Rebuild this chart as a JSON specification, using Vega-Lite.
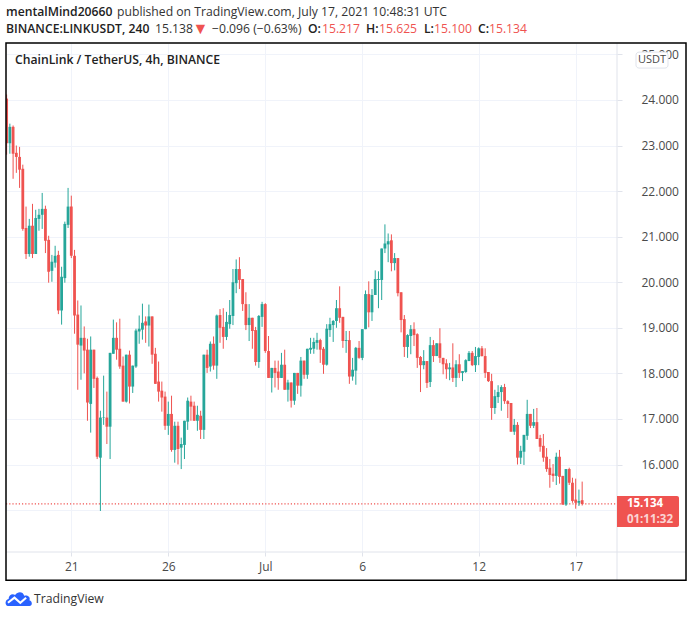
{"$schema":"https://vega.github.io/schema/vega-lite/v6.json","width":611,"height":509,"autosize":"none","padding":{"left":6,"top":43,"right":75,"bottom":65},"background":"#ffffff","view":{"stroke":null},"config":{"font":"Open Sans","text":{"font":"Open Sans"},"axis":{"labelFont":"Open Sans"}},
"datasets":{
"candles":[
{"t":"2021-06-17T16:00Z","o":24.03,"h":24.12,"l":22.8,"c":23.05},{"t":"2021-06-17T20:00Z","o":23.05,"h":23.48,"l":22.82,"c":23.41},
{"t":"2021-06-18T00:00Z","o":23.41,"h":23.44,"l":22.27,"c":22.82},{"t":"2021-06-18T04:00Z","o":22.84,"h":23.0,"l":22.4,"c":22.75},{"t":"2021-06-18T08:00Z","o":22.75,"h":22.97,"l":22.07,"c":22.47},{"t":"2021-06-18T12:00Z","o":22.49,"h":22.58,"l":21.13,"c":21.17},{"t":"2021-06-18T16:00Z","o":21.19,"h":21.66,"l":20.51,"c":20.62},{"t":"2021-06-18T20:00Z","o":20.62,"h":21.39,"l":20.56,"c":21.24},
{"t":"2021-06-19T00:00Z","o":21.24,"h":21.72,"l":20.53,"c":20.62},{"t":"2021-06-19T04:00Z","o":20.62,"h":21.59,"l":20.62,"c":21.41},{"t":"2021-06-19T08:00Z","o":21.39,"h":21.61,"l":21.13,"c":21.48},{"t":"2021-06-19T12:00Z","o":21.48,"h":21.96,"l":21.17,"c":21.61},{"t":"2021-06-19T16:00Z","o":21.61,"h":21.68,"l":20.64,"c":20.91},{"t":"2021-06-19T20:00Z","o":20.93,"h":21.02,"l":19.99,"c":20.23},
{"t":"2021-06-20T00:00Z","o":20.25,"h":20.6,"l":20.01,"c":20.45},{"t":"2021-06-20T04:00Z","o":20.43,"h":20.8,"l":20.32,"c":20.58},{"t":"2021-06-20T08:00Z","o":20.6,"h":20.69,"l":19.3,"c":19.38},{"t":"2021-06-20T12:00Z","o":19.38,"h":20.34,"l":19.07,"c":20.12},{"t":"2021-06-20T16:00Z","o":20.09,"h":21.33,"l":19.99,"c":21.28},{"t":"2021-06-20T20:00Z","o":21.26,"h":22.07,"l":21.19,"c":21.66},
{"t":"2021-06-21T00:00Z","o":21.66,"h":21.9,"l":20.53,"c":20.58},{"t":"2021-06-21T04:00Z","o":20.58,"h":20.71,"l":18.87,"c":19.27},{"t":"2021-06-21T08:00Z","o":19.29,"h":19.6,"l":17.64,"c":18.63},{"t":"2021-06-21T12:00Z","o":18.61,"h":19.49,"l":17.86,"c":18.78},{"t":"2021-06-21T16:00Z","o":18.78,"h":19.03,"l":18.0,"c":18.5},{"t":"2021-06-21T20:00Z","o":18.52,"h":18.76,"l":16.96,"c":17.36},
{"t":"2021-06-22T00:00Z","o":17.33,"h":18.81,"l":16.7,"c":18.52},{"t":"2021-06-22T04:00Z","o":18.52,"h":18.52,"l":17.68,"c":17.88},{"t":"2021-06-22T08:00Z","o":17.9,"h":17.93,"l":16.12,"c":16.17},{"t":"2021-06-22T12:00Z","o":16.15,"h":17.18,"l":14.98,"c":17.03},{"t":"2021-06-22T16:00Z","o":17.02,"h":17.95,"l":16.87,"c":17.03},{"t":"2021-06-22T20:00Z","o":17.03,"h":17.6,"l":16.45,"c":16.83},
{"t":"2021-06-23T00:00Z","o":16.83,"h":18.45,"l":16.12,"c":18.45},{"t":"2021-06-23T04:00Z","o":18.43,"h":19.18,"l":18.43,"c":18.78},{"t":"2021-06-23T08:00Z","o":18.78,"h":19.12,"l":18.3,"c":18.52},{"t":"2021-06-23T12:00Z","o":18.54,"h":19.2,"l":18.1,"c":18.15},{"t":"2021-06-23T16:00Z","o":18.17,"h":18.37,"l":17.38,"c":17.38},{"t":"2021-06-23T20:00Z","o":17.38,"h":18.41,"l":17.36,"c":18.41},
{"t":"2021-06-24T00:00Z","o":18.41,"h":18.5,"l":17.34,"c":17.71},{"t":"2021-06-24T04:00Z","o":17.71,"h":18.17,"l":17.57,"c":18.17},{"t":"2021-06-24T08:00Z","o":18.15,"h":18.98,"l":18.12,"c":18.94},{"t":"2021-06-24T12:00Z","o":18.92,"h":19.27,"l":18.65,"c":18.98},{"t":"2021-06-24T16:00Z","o":18.96,"h":19.53,"l":18.74,"c":19.11},{"t":"2021-06-24T20:00Z","o":19.14,"h":19.25,"l":18.67,"c":19.05},
{"t":"2021-06-25T00:00Z","o":19.05,"h":19.51,"l":18.59,"c":19.25},{"t":"2021-06-25T04:00Z","o":19.25,"h":19.25,"l":18.21,"c":18.41},{"t":"2021-06-25T08:00Z","o":18.43,"h":18.56,"l":17.77,"c":17.77},{"t":"2021-06-25T12:00Z","o":17.82,"h":18.26,"l":17.38,"c":17.6},{"t":"2021-06-25T16:00Z","o":17.62,"h":17.82,"l":17.16,"c":17.47},{"t":"2021-06-25T20:00Z","o":17.49,"h":17.6,"l":16.76,"c":16.85},
{"t":"2021-06-26T00:00Z","o":16.85,"h":17.38,"l":16.65,"c":17.11},{"t":"2021-06-26T04:00Z","o":17.11,"h":17.51,"l":16.28,"c":16.32},{"t":"2021-06-26T08:00Z","o":16.32,"h":16.94,"l":16.04,"c":16.85},{"t":"2021-06-26T12:00Z","o":16.85,"h":16.94,"l":16.0,"c":16.34},{"t":"2021-06-26T16:00Z","o":16.37,"h":16.59,"l":15.9,"c":16.45},{"t":"2021-06-26T20:00Z","o":16.43,"h":16.96,"l":16.12,"c":16.96},
{"t":"2021-06-27T00:00Z","o":16.94,"h":17.47,"l":16.76,"c":17.4},{"t":"2021-06-27T04:00Z","o":17.38,"h":17.51,"l":16.96,"c":17.27},{"t":"2021-06-27T08:00Z","o":17.29,"h":17.38,"l":16.96,"c":16.96},{"t":"2021-06-27T12:00Z","o":16.96,"h":17.29,"l":16.74,"c":17.09},{"t":"2021-06-27T16:00Z","o":17.07,"h":17.18,"l":16.56,"c":16.76},{"t":"2021-06-27T20:00Z","o":16.76,"h":18.41,"l":16.56,"c":18.41},
{"t":"2021-06-28T00:00Z","o":18.41,"h":18.52,"l":18.01,"c":18.12},{"t":"2021-06-28T04:00Z","o":18.15,"h":18.7,"l":18.04,"c":18.65},{"t":"2021-06-28T08:00Z","o":18.65,"h":18.81,"l":18.08,"c":18.17},{"t":"2021-06-28T12:00Z","o":18.17,"h":19.29,"l":17.88,"c":19.27},{"t":"2021-06-28T16:00Z","o":19.28,"h":19.41,"l":18.67,"c":19.0},{"t":"2021-06-28T20:00Z","o":19.02,"h":19.43,"l":18.54,"c":18.8},
{"t":"2021-06-29T00:00Z","o":18.8,"h":19.35,"l":18.73,"c":19.13},{"t":"2021-06-29T04:00Z","o":19.08,"h":19.61,"l":18.98,"c":19.28},{"t":"2021-06-29T08:00Z","o":19.26,"h":20.29,"l":19.06,"c":20.0},{"t":"2021-06-29T12:00Z","o":19.98,"h":20.5,"l":19.76,"c":20.29},{"t":"2021-06-29T16:00Z","o":20.29,"h":20.55,"l":19.85,"c":20.05},{"t":"2021-06-29T20:00Z","o":20.07,"h":20.07,"l":19.37,"c":19.52},
{"t":"2021-06-30T00:00Z","o":19.52,"h":19.78,"l":18.95,"c":19.06},{"t":"2021-06-30T04:00Z","o":19.06,"h":19.52,"l":18.71,"c":19.22},{"t":"2021-06-30T08:00Z","o":19.22,"h":19.22,"l":18.54,"c":18.93},{"t":"2021-06-30T12:00Z","o":18.95,"h":19.02,"l":18.17,"c":18.25},{"t":"2021-06-30T16:00Z","o":18.25,"h":19.28,"l":18.12,"c":19.26},{"t":"2021-06-30T20:00Z","o":19.24,"h":19.57,"l":19.02,"c":19.52},
{"t":"2021-07-01T00:00Z","o":19.52,"h":19.54,"l":18.45,"c":18.49},{"t":"2021-07-01T04:00Z","o":18.49,"h":18.82,"l":17.9,"c":17.9},{"t":"2021-07-01T08:00Z","o":17.9,"h":18.12,"l":17.58,"c":18.12},{"t":"2021-07-01T12:00Z","o":18.12,"h":18.28,"l":17.69,"c":18.01},{"t":"2021-07-01T16:00Z","o":18.04,"h":18.28,"l":17.64,"c":17.9},{"t":"2021-07-01T20:00Z","o":17.9,"h":18.45,"l":17.9,"c":18.19},
{"t":"2021-07-02T00:00Z","o":18.19,"h":18.52,"l":17.64,"c":17.64},{"t":"2021-07-02T04:00Z","o":17.64,"h":17.86,"l":17.38,"c":17.8},{"t":"2021-07-02T08:00Z","o":17.8,"h":17.8,"l":17.25,"c":17.4},{"t":"2021-07-02T12:00Z","o":17.4,"h":18.01,"l":17.31,"c":18.01},{"t":"2021-07-02T16:00Z","o":18.01,"h":18.01,"l":17.55,"c":17.73},{"t":"2021-07-02T20:00Z","o":17.73,"h":18.36,"l":17.49,"c":18.28},
{"t":"2021-07-03T00:00Z","o":18.28,"h":18.28,"l":17.88,"c":17.97},{"t":"2021-07-03T04:00Z","o":17.97,"h":18.54,"l":17.88,"c":18.54},{"t":"2021-07-03T08:00Z","o":18.52,"h":18.78,"l":18.43,"c":18.56},{"t":"2021-07-03T12:00Z","o":18.54,"h":18.78,"l":18.43,"c":18.69},{"t":"2021-07-03T16:00Z","o":18.67,"h":18.89,"l":18.52,"c":18.73},{"t":"2021-07-03T20:00Z","o":18.73,"h":18.76,"l":18.23,"c":18.52},
{"t":"2021-07-04T00:00Z","o":18.54,"h":18.58,"l":17.99,"c":18.19},{"t":"2021-07-04T04:00Z","o":18.19,"h":19.08,"l":18.17,"c":18.98},{"t":"2021-07-04T08:00Z","o":18.95,"h":19.22,"l":18.8,"c":19.08},{"t":"2021-07-04T12:00Z","o":19.06,"h":19.17,"l":18.69,"c":19.15},{"t":"2021-07-04T16:00Z","o":19.15,"h":19.61,"l":19.0,"c":19.43},{"t":"2021-07-04T20:00Z","o":19.43,"h":19.91,"l":19.11,"c":19.22},
{"t":"2021-07-05T00:00Z","o":19.24,"h":19.24,"l":18.56,"c":18.71},{"t":"2021-07-05T04:00Z","o":18.71,"h":18.93,"l":18.45,"c":18.73},{"t":"2021-07-05T08:00Z","o":18.73,"h":18.93,"l":17.77,"c":17.93},{"t":"2021-07-05T12:00Z","o":17.93,"h":18.34,"l":17.84,"c":18.08},{"t":"2021-07-05T16:00Z","o":18.06,"h":18.58,"l":17.75,"c":18.56},{"t":"2021-07-05T20:00Z","o":18.56,"h":18.71,"l":18.32,"c":18.34},
{"t":"2021-07-06T00:00Z","o":18.34,"h":18.97,"l":18.29,"c":18.97},{"t":"2021-07-06T04:00Z","o":18.97,"h":19.82,"l":18.97,"c":19.74},{"t":"2021-07-06T08:00Z","o":19.74,"h":20.02,"l":19.01,"c":19.34},{"t":"2021-07-06T12:00Z","o":19.34,"h":19.85,"l":19.15,"c":19.72},{"t":"2021-07-06T16:00Z","o":19.72,"h":20.26,"l":19.72,"c":20.07},{"t":"2021-07-06T20:00Z","o":20.05,"h":20.24,"l":19.43,"c":20.07},
{"t":"2021-07-07T00:00Z","o":20.05,"h":20.74,"l":19.61,"c":20.74},{"t":"2021-07-07T04:00Z","o":20.74,"h":21.27,"l":20.64,"c":20.85},{"t":"2021-07-07T08:00Z","o":20.83,"h":21.07,"l":20.44,"c":20.9},{"t":"2021-07-07T12:00Z","o":20.92,"h":21.05,"l":20.24,"c":20.42},{"t":"2021-07-07T16:00Z","o":20.42,"h":20.64,"l":20.26,"c":20.53},{"t":"2021-07-07T20:00Z","o":20.53,"h":20.53,"l":19.69,"c":19.76},
{"t":"2021-07-08T00:00Z","o":19.78,"h":19.78,"l":18.9,"c":19.17},{"t":"2021-07-08T04:00Z","o":19.19,"h":19.28,"l":18.36,"c":18.58},{"t":"2021-07-08T08:00Z","o":18.58,"h":18.86,"l":18.34,"c":18.84},{"t":"2021-07-08T12:00Z","o":18.82,"h":19.06,"l":18.42,"c":18.97},{"t":"2021-07-08T16:00Z","o":18.97,"h":19.12,"l":18.6,"c":18.84},{"t":"2021-07-08T20:00Z","o":18.86,"h":18.88,"l":18.12,"c":18.34},
{"t":"2021-07-09T00:00Z","o":18.36,"h":18.38,"l":17.59,"c":18.18},{"t":"2021-07-09T04:00Z","o":18.18,"h":18.51,"l":18.09,"c":18.27},{"t":"2021-07-09T08:00Z","o":18.27,"h":18.27,"l":17.68,"c":17.79},{"t":"2021-07-09T12:00Z","o":17.81,"h":18.8,"l":17.7,"c":18.62},{"t":"2021-07-09T16:00Z","o":18.62,"h":18.73,"l":18.25,"c":18.38},{"t":"2021-07-09T20:00Z","o":18.38,"h":18.66,"l":18.38,"c":18.66},
{"t":"2021-07-10T00:00Z","o":18.66,"h":18.99,"l":18.23,"c":18.34},{"t":"2021-07-10T04:00Z","o":18.34,"h":18.34,"l":17.98,"c":18.2},{"t":"2021-07-10T08:00Z","o":18.22,"h":18.31,"l":17.88,"c":18.09},{"t":"2021-07-10T12:00Z","o":18.09,"h":18.23,"l":17.85,"c":18.13},{"t":"2021-07-10T16:00Z","o":18.13,"h":18.66,"l":17.81,"c":17.9},{"t":"2021-07-10T20:00Z","o":17.9,"h":18.29,"l":17.7,"c":18.2},
{"t":"2021-07-11T00:00Z","o":18.2,"h":18.42,"l":17.9,"c":18.01},{"t":"2021-07-11T04:00Z","o":18.01,"h":18.05,"l":17.83,"c":18.05},{"t":"2021-07-11T08:00Z","o":18.03,"h":18.31,"l":18.01,"c":18.29},{"t":"2021-07-11T12:00Z","o":18.27,"h":18.49,"l":18.27,"c":18.45},{"t":"2021-07-11T16:00Z","o":18.45,"h":18.49,"l":18.16,"c":18.18},{"t":"2021-07-11T20:00Z","o":18.18,"h":18.58,"l":18.03,"c":18.38},
{"t":"2021-07-12T00:00Z","o":18.36,"h":18.57,"l":18.18,"c":18.55},{"t":"2021-07-12T04:00Z","o":18.55,"h":18.6,"l":18.37,"c":18.38},{"t":"2021-07-12T08:00Z","o":18.38,"h":18.55,"l":17.9,"c":18.01},{"t":"2021-07-12T12:00Z","o":18.03,"h":18.03,"l":17.81,"c":17.83},{"t":"2021-07-12T16:00Z","o":17.83,"h":17.99,"l":16.98,"c":17.24},{"t":"2021-07-12T20:00Z","o":17.24,"h":17.64,"l":17.11,"c":17.5},
{"t":"2021-07-13T00:00Z","o":17.48,"h":17.74,"l":17.35,"c":17.59},{"t":"2021-07-13T04:00Z","o":17.59,"h":17.74,"l":17.18,"c":17.7},{"t":"2021-07-13T08:00Z","o":17.7,"h":17.77,"l":17.33,"c":17.39},{"t":"2021-07-13T12:00Z","o":17.39,"h":17.41,"l":17.02,"c":17.33},{"t":"2021-07-13T16:00Z","o":17.35,"h":17.35,"l":16.72,"c":16.72},{"t":"2021-07-13T20:00Z","o":16.72,"h":17.0,"l":16.65,"c":16.87},
{"t":"2021-07-14T00:00Z","o":16.87,"h":16.93,"l":16.0,"c":16.15},{"t":"2021-07-14T04:00Z","o":16.15,"h":16.41,"l":16.01,"c":16.3},{"t":"2021-07-14T08:00Z","o":16.28,"h":16.65,"l":15.99,"c":16.65},{"t":"2021-07-14T12:00Z","o":16.63,"h":17.42,"l":16.54,"c":17.11},{"t":"2021-07-14T16:00Z","o":17.11,"h":17.11,"l":16.8,"c":16.85},{"t":"2021-07-14T20:00Z","o":16.85,"h":17.22,"l":16.8,"c":16.93},
{"t":"2021-07-15T00:00Z","o":16.93,"h":17.24,"l":16.56,"c":16.56},{"t":"2021-07-15T04:00Z","o":16.58,"h":16.65,"l":16.28,"c":16.39},{"t":"2021-07-15T08:00Z","o":16.41,"h":16.67,"l":16.06,"c":16.15},{"t":"2021-07-15T12:00Z","o":16.17,"h":16.36,"l":15.84,"c":15.9},{"t":"2021-07-15T16:00Z","o":15.93,"h":16.12,"l":15.49,"c":15.77},{"t":"2021-07-15T20:00Z","o":15.8,"h":16.01,"l":15.62,"c":15.75},
{"t":"2021-07-16T00:00Z","o":15.75,"h":16.26,"l":15.55,"c":16.17},{"t":"2021-07-16T04:00Z","o":16.17,"h":16.32,"l":15.58,"c":15.73},{"t":"2021-07-16T08:00Z","o":15.75,"h":15.75,"l":15.12,"c":15.12},{"t":"2021-07-16T12:00Z","o":15.12,"h":15.9,"l":15.09,"c":15.9},{"t":"2021-07-16T16:00Z","o":15.9,"h":15.93,"l":15.55,"c":15.6},{"t":"2021-07-16T20:00Z","o":15.6,"h":15.71,"l":15.16,"c":15.2},
{"t":"2021-07-17T00:00Z","o":15.23,"h":15.69,"l":15.03,"c":15.16},{"t":"2021-07-17T04:00Z","o":15.16,"h":15.45,"l":15.09,"c":15.2},{"t":"2021-07-17T08:00Z","o":15.217,"h":15.625,"l":15.1,"c":15.134}
],
"notes":[
{"label":"mentalMind20660","t":"2021-06-17T15:13Z","p":25.93,"role":"bold"},
{"label":"published on TradingView.com, July 17, 2021 10:48:31 UTC","t":"2021-06-23T08:32Z","p":25.93,"role":"plain"},
{"label":"BINANCE:LINKUSDT, 240","t":"2021-06-17T15:13Z","p":25.56,"role":"bold"},
{"label":"15.138","t":"2021-06-25T07:30Z","p":25.56,"role":"plain"},
{"label":"▼","t":"2021-06-27T06:00Z","p":25.56,"role":"arrow"},
{"label":"−0.096 (−0.63%)","t":"2021-06-28T06:00Z","p":25.56,"role":"plain"},
{"label":"O:","t":"2021-07-03T04:48Z","p":25.56,"role":"bold"},
{"label":"15.217","t":"2021-07-03T22:06Z","p":25.56,"role":"red"},
{"label":"H:","t":"2021-07-06T04:36Z","p":25.56,"role":"bold"},
{"label":"15.625","t":"2021-07-06T20:42Z","p":25.56,"role":"red"},
{"label":"L:","t":"2021-07-09T04:18Z","p":25.56,"role":"bold"},
{"label":"15.100","t":"2021-07-09T16:42Z","p":25.56,"role":"red"},
{"label":"C:","t":"2021-07-11T23:06Z","p":25.56,"role":"bold"},
{"label":"15.134","t":"2021-07-12T12:42Z","p":25.56,"role":"red"},
{"label":"ChainLink / TetherUS, 4h, BINANCE","t":"2021-06-18T02:21Z","p":24.88,"role":"bold"},
{"label":"TradingView","t":"2021-06-19T01:54Z","p":13.05,"role":"plain"}
]},
"encoding":{
"x":{"field":"t","type":"temporal","title":null,"scale":{"type":"utc","padding":0,"domain":[{"year":2021,"month":6,"date":17,"hours":15,"minutes":13,"utc":true},{"year":2021,"month":7,"date":19,"hours":3,"minutes":6,"utc":true}]},"axis":{"values":[{"year":2021,"month":6,"date":21,"utc":true},{"year":2021,"month":6,"date":26,"utc":true},{"year":2021,"month":7,"date":1,"utc":true},{"year":2021,"month":7,"date":6,"utc":true},{"year":2021,"month":7,"date":12,"utc":true},{"year":2021,"month":7,"date":17,"utc":true}],"labelExpr":"utcdate(datum.value)==1?'Jul':''+utcdate(datum.value)","domain":false,"grid":true,"gridColor":"#f0f3fa","gridWidth":1,"tickColor":"#e0e3eb","tickSize":4,"labelColor":"#4a4a4a","labelFontSize":12,"labelPadding":5,"labelFlush":false}},
"y":{"field":"p","type":"quantitative","title":null,"scale":{"domain":[14.08,25.25],"nice":false,"zero":false},"axis":{"orient":"right","values":[15,16,17,18,19,20,21,22,23,24,25],"labelExpr":"datum.value==15?'':format(datum.value,'.3f')","domain":false,"grid":true,"gridColor":"#f0f3fa","gridWidth":1,"tickColor":"#e0e3eb","tickSize":5,"labelColor":"#4a4a4a","labelFontSize":12,"labelPadding":19}}
},
"layer":[
{"data":{"values":[{"t":"2021-06-17T15:13Z","p":15.134},{"t":"2021-07-19T03:06Z","p":15.134}]},"mark":{"type":"line","color":"#ef5350","strokeWidth":1.2,"strokeDash":[1.2,2]}},
{"data":{"name":"candles"},"mark":{"type":"rule","strokeWidth":1,"clip":true},"encoding":{"y":{"field":"l","type":"quantitative","title":null,"scale":{"domain":[14.08,25.25],"nice":false,"zero":false},"axis":{"orient":"right","values":[15,16,17,18,19,20,21,22,23,24,25],"labelExpr":"datum.value==15?'':format(datum.value,'.3f')","domain":false,"grid":true,"gridColor":"#f0f3fa","gridWidth":1,"tickColor":"#e0e3eb","tickSize":5,"labelColor":"#4a4a4a","labelFontSize":12,"labelPadding":19}},"y2":{"field":"h"},"color":{"condition":{"test":"datum.c<datum.o","value":"#ef5350"},"value":"#26a69a"}}},
{"data":{"name":"candles"},"mark":{"type":"bar","size":2.8,"clip":true},"encoding":{"y":{"field":"o","type":"quantitative","title":null,"scale":{"domain":[14.08,25.25],"nice":false,"zero":false},"axis":{"orient":"right","values":[15,16,17,18,19,20,21,22,23,24,25],"labelExpr":"datum.value==15?'':format(datum.value,'.3f')","domain":false,"grid":true,"gridColor":"#f0f3fa","gridWidth":1,"tickColor":"#e0e3eb","tickSize":5,"labelColor":"#4a4a4a","labelFontSize":12,"labelPadding":19}},"y2":{"field":"c"},"color":{"condition":{"test":"datum.c<datum.o","value":"#ef5350"},"value":"#26a69a"}}},
{"data":{"values":[{"t":"2021-07-19T03:06Z","p":25.25,"t2":"2021-07-19T03:06Z","p2":13.46},{"t":"2021-06-17T15:13Z","p":14.08,"t2":"2021-07-22T16:28Z","p2":14.08}]},"mark":{"type":"rule","color":"#e0e3eb","strokeWidth":1},"encoding":{"x2":{"field":"t2"},"y2":{"field":"p2"}}},
{"data":{"values":[{"t":"2021-06-17T15:13Z","p":25.25,"t2":"2021-07-22T16:28Z","p2":13.46}]},"mark":{"type":"rect","fill":null,"fillOpacity":0,"stroke":"#000000","strokeWidth":1.5},"encoding":{"x2":{"field":"t2"},"y2":{"field":"p2"}}},
{"data":{"values":[{"t":"2021-07-20T02:36Z","p":25.05,"t2":"2021-07-21T18:12Z","p2":24.7}]},"mark":{"type":"rect","fill":"#ffffff","stroke":"#e0e3eb","strokeWidth":1,"cornerRadius":3},"encoding":{"x2":{"field":"t2"},"y2":{"field":"p2"}}},
{"data":{"values":[{"t":"2021-07-20T22:24Z","p":24.88,"label":"USDT"}]},"mark":{"type":"text","fontSize":11,"color":"#4a4a4a","align":"center","baseline":"middle"},"encoding":{"text":{"field":"label"}}},
{"data":{"values":[{"t":"2021-07-19T03:06Z","p":15.31,"t2":"2021-07-22T07:48Z","p2":14.63}]},"mark":{"type":"rect","fill":"#ef5350","cornerRadiusTopRight":2,"cornerRadiusBottomRight":2},"encoding":{"x2":{"field":"t2"},"y2":{"field":"p2"}}},
{"data":{"values":[{"t":"2021-07-19T15:24Z","p":15.13,"label":"15.134"}]},"mark":{"type":"text","fontSize":11.5,"fontWeight":"bold","color":"#ffffff","align":"left","baseline":"middle"},"encoding":{"text":{"field":"label"}}},
{"data":{"values":[{"t":"2021-07-19T15:24Z","p":14.79,"label":"01:11:32"}]},"mark":{"type":"text","fontSize":11.5,"fontWeight":"bold","color":"#ffffff","opacity":0.75,"align":"left","baseline":"middle"},"encoding":{"text":{"field":"label"}}},
{"data":{"name":"notes"},"transform":[{"filter":"datum.role=='bold'"}],"mark":{"type":"text","fontSize":12.2,"fontWeight":600,"color":"#222222","align":"left","baseline":"middle"},"encoding":{"text":{"field":"label"}}},
{"data":{"name":"notes"},"transform":[{"filter":"datum.role=='plain'"}],"mark":{"type":"text","fontSize":12.2,"color":"#333333","align":"left","baseline":"middle"},"encoding":{"text":{"field":"label"}}},
{"data":{"name":"notes"},"transform":[{"filter":"datum.role=='red'"}],"mark":{"type":"text","fontSize":12.2,"color":"#ef5350","align":"left","baseline":"middle"},"encoding":{"text":{"field":"label"}}},
{"data":{"name":"notes"},"transform":[{"filter":"datum.role=='arrow'"}],"mark":{"type":"text","fontSize":16,"color":"#ef5350","align":"left","baseline":"middle"},"encoding":{"text":{"field":"label"}}},
{"data":{"values":[{"t":"2021-06-18T07:18Z","p":13.05}]},"mark":{"type":"point","filled":true,"color":"#2962ff","opacity":1,"size":676,"shape":"M-0.85,0.55 C-1.1,0.5 -1.1,0.05 -0.8,0 C-0.8,-0.3 -0.5,-0.45 -0.3,-0.3 C-0.1,-0.6 0.3,-0.6 0.4,-0.25 C0.7,-0.35 0.9,-0.1 0.8,0.1 C1.05,0.15 1.05,0.55 0.8,0.55 Z"}},
{"data":{"values":[{"t":"2021-06-18T07:18Z","p":13.05}]},"mark":{"type":"point","filled":false,"color":"#ffffff","opacity":1,"strokeWidth":2,"size":676,"shape":"M-0.85,0.3 L-0.35,-0.1 L0.1,0.3 L0.55,-0.1"}}
]}
